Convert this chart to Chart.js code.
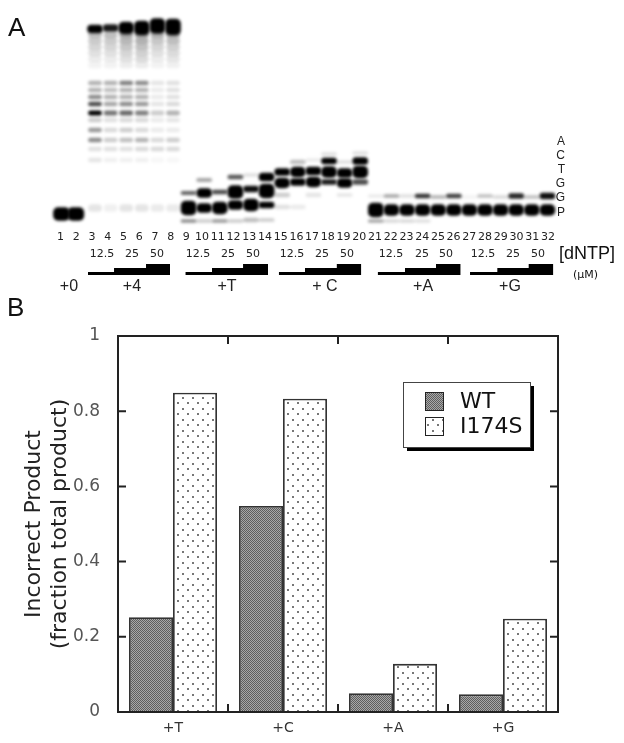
<!DOCTYPE html>
<html>
<head>
<meta charset="utf-8">
<title>Incorrect product</title>
<script src="https://cdn.jsdelivr.net/npm/chart.js@4"></script>
<style>
    body { margin: 0; background: #fff; }
    #page { position: relative; width: 624px; height: 743px; overflow: hidden; }
    canvas { position: absolute; left: 0; }
    #gel { top: 0; }
    #bars { top: 296px; }
    .note { position: absolute; font-family: "Liberation Sans", sans-serif; color: #111; line-height: 1; white-space: nowrap; }
</style>
</head>
<body>
<div id="page">
    <canvas id="gel" width="624" height="296"></canvas>
    <canvas id="bars" width="624" height="447"></canvas>
    <div class="note" style="left:8px;top:14px;font-size:26px">A</div>
    <div class="note" style="left:7px;top:294px;font-size:26px">B</div>
    <div class="note" style="left:559px;top:244px;font-size:18px">[dNTP]</div>
    <div class="note" style="left:573px;top:269px;font-size:11px;font-family:'DejaVu Sans'">(μM)</div>
</div>
<script>
// panel B values
const categories = ['+T', '+C', '+A', '+G'];
const wtValues = [0.252, 0.548, 0.05, 0.047];
const i174sValues = [0.849, 0.833, 0.128, 0.248];
const yTicks = [0, 0.2, 0.4, 0.6, 0.8, 1];

// panel A: lane labels and text along the gel
const laneNumbers = Array.from({ length: 32 }, (_, i) => i + 1);
const concLabels = ['12.5', '25', '50', '12.5', '25', '50', '12.5', '25', '50', '12.5', '25', '50', '12.5', '25', '50'];
const concLanes = [3.45, 5.37, 6.97, 9.6, 11.52, 13.12, 15.63, 17.55, 19.15, 21.97, 23.96, 25.5, 27.87, 29.8, 31.4];
const groupLabels = ['+0', '+4', '+T', '+ C', '+A', '+G'];
const groupLanes = [1.33, 5.37, 11.46, 17.74, 24.03, 29.6];
const sequenceLabels = ['P', 'G', 'G', 'T', 'C', 'A'];
const sequenceRows = [0, 15, 29, 43, 57, 71];

// bands are [lane, migration above primer, thickness, darkness]
const plus0Bands = [[0.85, -1, 13, 1], [1.77, -1, 13, 1]];
const plus4TopBands = [[3, 184, 8, 1], [4, 185, 7, 0.9], [5, 185, 12, 1], [6, 185, 14, 1], [7, 187, 15, 1], [8, 186, 16, 1]];

// +4 ladder: one darkness per row, per lane
const ladderRows = [178, 172, 166, 160, 154, 148, 130, 123, 116, 109, 100, 93, 83, 73, 64, 53, 5];
const ladderThickness = [6, 6, 6, 6, 6, 6, 4, 4, 4, 4, 4.5, 4, 4, 4, 4, 4, 7];
const ladderLane3 = [0.25, 0.2, 0.16, 0.12, 0.08, 0.05, 0.3, 0.3, 0.45, 0.7, 1, 0.2, 0.4, 0.45, 0.12, 0.1, 0.1];
const ladderLane4 = [0.25, 0.2, 0.16, 0.12, 0.08, 0.05, 0.3, 0.25, 0.3, 0.35, 0.55, 0.12, 0.15, 0.2, 0.12, 0.06, 0.06];
const ladderLane5 = [0.35, 0.28, 0.22, 0.16, 0.12, 0.07, 0.5, 0.3, 0.3, 0.45, 0.6, 0.15, 0.2, 0.25, 0.12, 0.06, 0.1];
const ladderLane6 = [0.35, 0.3, 0.24, 0.18, 0.14, 0.08, 0.45, 0.3, 0.3, 0.4, 0.5, 0.15, 0.15, 0.3, 0.15, 0.06, 0.1];
const ladderLane7 = [0.3, 0.22, 0.16, 0.12, 0.08, 0.05, 0.1, 0.08, 0.08, 0.1, 0.2, 0.08, 0.08, 0.15, 0.15, 0.03, 0.08];
const ladderLane8 = [0.32, 0.25, 0.18, 0.14, 0.1, 0.06, 0.12, 0.12, 0.12, 0.15, 0.3, 0.1, 0.08, 0.2, 0.15, 0.03, 0.08];
const ladderLanes = [ladderLane3, ladderLane4, ladderLane5, ladderLane6, ladderLane7, ladderLane8];

const plusTBands = [
    [9, 5, 14, 1], [9, 20, 3.5, 0.6], [9, -8, 3, 0.45],
    [10, 5, 9, 1], [10, 20, 9, 1], [10, 33, 3.5, 0.35], [10, -8, 3, 0.2],
    [11, 5, 12, 1], [11, 21, 4, 0.7], [11, -8, 3, 0.4],
    [12, 8, 9, 1], [12, 21, 13, 1], [12, 36, 4, 0.65], [12, -8, 3, 0.2],
    [13, 8, 12, 1], [13, 24, 6, 0.95], [13, 38, 3, 0.12], [13, -7, 4, 0.25],
    [14, 8, 6, 1], [14, 22, 14, 1], [14, 36, 8, 1], [14, -7, 3, 0.2]
];
const plusCBands = [
    [15, 30, 10, 1], [15, 41, 7, 1], [15, 18, 4, 0.2], [15, 6, 4, 0.12],
    [16, 31, 7, 1], [16, 41, 10, 1], [16, 51, 4, 0.25], [16, 6, 4, 0.08],
    [17, 31, 10, 1], [17, 42, 8, 1], [17, 53, 3, 0.08], [17, 18, 4, 0.1],
    [18, 31, 5, 0.9], [18, 41, 11, 1], [18, 52, 6, 1], [18, 59, 3, 0.12],
    [19, 30, 9, 1], [19, 40, 9, 1], [19, 51, 3, 0.12], [19, 18, 3, 0.1],
    [20, 31, 5, 0.7], [20, 41, 12, 1], [20, 52, 7, 1], [20, 60, 3, 0.12]
];
const plusABands = [
    [21, 3, 14, 1], [21, 17, 3, 0.08], [21, -8, 3, 0.35],
    [22, 3, 11, 1], [22, 17, 3, 0.35], [22, -8, 3, 0.15],
    [23, 3, 11, 1], [23, 17, 3, 0.12], [23, -8, 3, 0.15],
    [24, 3, 11, 1], [24, 17, 4, 0.8], [24, -8, 3, 0.12],
    [25, 3, 11, 1], [25, 16, 3, 0.3],
    [26, 3, 11, 1], [26, 17, 4, 0.75]
];
const plusGBands = [
    [27, 3, 11, 1], [27, 16, 3, 0.05],
    [28, 3, 11, 1], [28, 17, 3, 0.25],
    [29, 3, 11, 1], [29, 16, 3, 0.15],
    [30, 3, 11, 1], [30, 17, 5, 0.85],
    [31, 3, 11, 1], [31, 16, 3, 0.25],
    [32, 3, 11, 1], [32, 17, 6, 0.95]
];

// concentration wedges: step edges in lanes, step tops on the same rows
const wedgeLevels = [-59, -55, -51, -51];
const wedgeBase = -62;
const wedgePlus4 = [2.55, 4.22, 6.27, 7.81];
const wedgePlusT = [8.79, 10.5, 12.49, 14.09];
const wedgePlusC = [14.78, 16.46, 18.5, 20.07];
const wedgePlusA = [21.12, 22.87, 24.86, 26.44];
const wedgePlusG = [27.04, 28.79, 30.8, 32.38];

function bandPoints(list) {
    return list.map(b => ({ x: b[0], y: [b[1] - b[2] / 2, b[1] + b[2] / 2], dark: b[3] }));
}

function ladderPoints() {
    const out = [];
    ladderLanes.forEach((lane, l) => {
        lane.forEach((dark, r) => out.push([l + 3, ladderRows[r], ladderThickness[r], dark]));
    });
    return bandPoints(out);
}

function bandSet(points, width) {
    return {
        type: 'bar',
        data: points,
        barThickness: width,
        grouped: false,
        borderWidth: 0,
        borderSkipped: false,
        borderRadius: 5,
        backgroundColor: c => 'rgba(0,0,0,' + (c.raw ? c.raw.dark : 1) + ')'
    };
}

function wedgeSet(edges) {
    return {
        type: 'line',
        data: edges.map((x, i) => ({ x: x, y: wedgeLevels[i] })),
        stepped: true,
        borderWidth: 0,
        pointRadius: 0,
        backgroundColor: '#000',
        fill: { value: wedgeBase }
    };
}

function axisAt(row, values, labels, font) {
    return {
        axis: 'x',
        type: 'linear',
        min: -3.09,
        max: 36.91,
        position: { y: row },
        grid: { display: false },
        border: { display: false },
        afterBuildTicks: s => { s.ticks = values.map(v => ({ value: v })); },
        ticks: {
            autoSkip: false,
            maxRotation: 0,
            minRotation: 0,
            padding: 0,
            color: '#222',
            font: font,
            callback: (v, i) => labels[i]
        }
    };
}

// soft edges for the gel bands only
const gelBlur = {
    id: 'gelBlur',
    beforeDatasetDraw(chart, args) {
        chart.ctx.save();
        if (args.meta.type === 'bar') chart.ctx.filter = 'blur(1.5px)';
    },
    afterDatasetDraw(chart) {
        chart.ctx.restore();
    }
};

const laneAxis = axisAt(-9.5, laneNumbers, laneNumbers.map(String), { family: 'DejaVu Sans', size: 11 });
laneAxis.min = -2.855;
laneAxis.max = 36.84;

new Chart(document.getElementById('gel'), {
    data: {
        datasets: [
            bandSet(bandPoints(plus0Bands), 16),
            bandSet(bandPoints(plus4TopBands), 15),
            bandSet(ladderPoints(), 13),
            bandSet(bandPoints(plusTBands), 15),
            bandSet(bandPoints(plusCBands), 15),
            bandSet(bandPoints(plusABands), 15),
            bandSet(bandPoints(plusGBands), 15),
            wedgeSet(wedgePlus4),
            wedgeSet(wedgePlusT),
            wedgeSet(wedgePlusC),
            wedgeSet(wedgePlusA),
            wedgeSet(wedgePlusG)
        ]
    },
    options: {
        responsive: false,
        animation: false,
        layout: { padding: 0 },
        plugins: { legend: { display: false }, tooltip: { enabled: false } },
        scales: {
            x: { type: 'linear', min: -3.09, max: 36.91, offset: false, display: false },
            y: { type: 'linear', min: -83, max: 213, display: false },
            xLane: laneAxis,
            xConc: axisAt(-26.5, concLanes, concLabels, { family: 'DejaVu Sans', size: 11 }),
            xGroup: axisAt(-56, groupLanes, groupLabels, { family: 'Liberation Sans', size: 16 }),
            seq: {
                axis: 'y',
                type: 'linear',
                min: -83,
                max: 213,
                position: { x: 33.13 },
                grid: { display: false },
                border: { display: false },
                afterBuildTicks: s => { s.ticks = sequenceRows.map(v => ({ value: v })); },
                afterFit: s => { s.paddingTop = 0; s.paddingBottom = 0; },
                ticks: {
                    autoSkip: false,
                    padding: 0,
                    color: '#222',
                    font: { family: 'Liberation Sans', size: 12 },
                    callback: (v, i) => sequenceLabels[i]
                }
            }
        }
    },
    plugins: [gelBlur]
});

// fill patterns of the two bars
function hatchPattern() {
    const c = document.createElement('canvas');
    c.width = 2;
    c.height = 2;
    const g = c.getContext('2d');
    g.fillStyle = '#a8a8a8';
    g.fillRect(0, 0, 2, 2);
    g.fillStyle = '#5e5e5e';
    g.fillRect(0, 0, 1, 1);
    g.fillRect(1, 1, 1, 1);
    return g.createPattern(c, 'repeat');
}

function dotPattern() {
    const c = document.createElement('canvas');
    c.width = 10;
    c.height = 11;
    const g = c.getContext('2d');
    g.fillStyle = '#fff';
    g.fillRect(0, 0, 10, 11);
    g.fillStyle = '#777';
    g.fillRect(2, 2, 2, 2);
    g.fillRect(7, 7, 2, 2);
    return g.createPattern(c, 'repeat');
}

// closed frame, ticks pointing inwards, boxed legend with a drop shadow
const frameAndLegend = {
    id: 'frameAndLegend',
    afterDraw(chart) {
        const ctx = chart.ctx;
        const a = chart.chartArea;
        const x = chart.scales.x;
        const y = chart.scales.y;
        ctx.save();
        ctx.strokeStyle = '#222';
        ctx.lineWidth = 2;
        ctx.strokeRect(a.left, a.top, a.right - a.left, a.bottom - a.top);
        ctx.beginPath();
        yTicks.slice(1, 5).forEach(v => {
            const py = y.getPixelForValue(v);
            ctx.moveTo(a.left, py);
            ctx.lineTo(a.left + 8, py);
            ctx.moveTo(a.right, py);
            ctx.lineTo(a.right - 8, py);
        });
        categories.slice(1).forEach((c, i) => {
            const px = (x.getPixelForValue(i) + x.getPixelForValue(i + 1)) / 2;
            ctx.moveTo(px, a.top);
            ctx.lineTo(px, a.top + 8);
            ctx.moveTo(px, a.bottom);
            ctx.lineTo(px, a.bottom - 8);
        });
        ctx.stroke();

        ctx.fillStyle = '#000';
        ctx.fillRect(407, 90, 127, 65);
        ctx.fillStyle = '#fff';
        ctx.strokeStyle = '#444';
        ctx.lineWidth = 1;
        ctx.fillRect(403.5, 86.5, 127, 65);
        ctx.strokeRect(403.5, 86.5, 127, 65);
        chart.data.datasets.forEach((d, i) => {
            const top = 96 + i * 25;
            ctx.fillStyle = d.backgroundColor;
            ctx.fillRect(425, top, 19, 18);
            ctx.strokeStyle = '#222';
            ctx.strokeRect(425.5, top + 0.5, 18, 18);
            ctx.fillStyle = '#111';
            ctx.font = '22px "DejaVu Sans"';
            ctx.textBaseline = 'middle';
            ctx.fillText(d.label, 460, top + 10);
        });
        ctx.restore();
    }
};

new Chart(document.getElementById('bars'), {
    type: 'bar',
    data: {
        labels: categories,
        datasets: [
            { label: 'WT', data: wtValues, backgroundColor: hatchPattern(), borderColor: '#333', borderWidth: 1.8, borderSkipped: 'bottom' },
            { label: 'I174S', data: i174sValues, backgroundColor: dotPattern(), borderColor: '#333', borderWidth: 1.8, borderSkipped: 'bottom' }
        ]
    },
    options: {
        responsive: false,
        animation: false,
        layout: { padding: { top: 40, right: 66, left: 0, bottom: 0 } },
        plugins: { legend: { display: false }, tooltip: { enabled: false } },
        datasets: { bar: { categoryPercentage: 0.8, barPercentage: 1 } },
        scales: {
            x: {
                grid: { display: false },
                border: { display: false },
                afterFit: s => { s.height = 31; },
                ticks: { color: '#333', padding: 0, maxRotation: 0, font: { family: 'DejaVu Sans', size: 14 } }
            },
            y: {
                min: 0,
                max: 1,
                grid: { display: false },
                border: { display: false },
                afterFit: s => { s.width = 118; },
                afterBuildTicks: s => { s.ticks = yTicks.map(v => ({ value: v })); },
                title: {
                    display: true,
                    text: ['Incorrect Product', '(fraction total product)'],
                    color: '#222',
                    padding: { top: 21, bottom: 0 },
                    font: { family: 'DejaVu Sans', size: 22, lineHeight: 1.2 }
                },
                ticks: {
                    color: '#555',
                    padding: 10,
                    font: { family: 'DejaVu Sans', size: 17 },
                    callback: v => String(v)
                }
            }
        }
    },
    plugins: [frameAndLegend]
});
</script>
</body>
</html>
